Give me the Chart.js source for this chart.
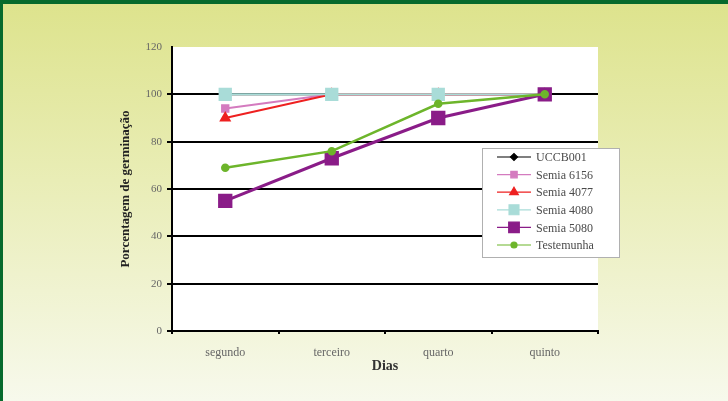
<!DOCTYPE html>
<html>
<head>
<meta charset="utf-8">
<script src="https://cdn.jsdelivr.net/npm/chart.js@4/dist/chart.umd.min.js"></script>
<style>
  html, body { margin: 0; padding: 0; overflow: hidden; background: #ffffff; }
  canvas { display: block; }
</style>
</head>
<body>
<canvas id="germ" width="728" height="401"></canvas>
<script>
// Germination percentage per day, one array per seed lot.
var dias = ['segundo', 'terceiro', 'quarto', 'quinto'];
var uccb001 = [100, 100, 100, 100];
var semia6156 = [94, 100, 100, 100];
var semia4077 = [90, 100, 100, 100];
var semia4080 = [100, 100, 100, 100];
var semia5080 = [55, 73, 90, 100];
var testemunha = [69, 76, 96, 100];
var yMin = 0, yMax = 120, yStep = 20;

var serif = '"Liberation Serif", "Times New Roman", serif';

/**
 * Paints the page background, green frame and white plot area.
 */
var backdrop = {
    id: 'backdrop',
    beforeDraw: function(chart) {
        var ctx = chart.ctx;
        var w = chart.width, h = chart.height;
        var g = ctx.createLinearGradient(0, 0, 0, h);
        g.addColorStop(0, '#dde38c');
        g.addColorStop(0.45, '#e9edb6');
        g.addColorStop(1, '#f7f9ec');
        ctx.save();
        ctx.fillStyle = g;
        ctx.fillRect(0, 0, w, h);
        // dark green frame (top and left)
        ctx.fillStyle = '#066a2c';
        ctx.fillRect(0, 0, w, 4);
        ctx.fillRect(0, 0, 3, h);
        var a = chart.chartArea;
        ctx.fillStyle = '#ffffff';
        ctx.fillRect(a.left, a.top, a.right - a.left, a.bottom - a.top);
        ctx.restore();
    }
};

/**
 * Boxed legend in the style of the original spreadsheet chart.
 */
var boxLegend = {
    id: 'boxLegend',
    afterDatasetsDraw: function(chart) {
        var ctx = chart.ctx;
        var x0 = 482, y0 = 148, bw = 137, bh = 109;
        var rowH = 17.6;
        ctx.save();
        ctx.fillStyle = '#ffffff';
        ctx.fillRect(x0, y0, bw, bh);
        ctx.strokeStyle = '#b0b0b0';
        ctx.lineWidth = 1;
        ctx.strokeRect(x0 + 0.5, y0 + 0.5, bw, bh);
        ctx.font = '12px ' + serif;
        ctx.textBaseline = 'middle';
        chart.data.datasets.forEach(function(ds, i) {
            var y = y0 + 9 + i * rowH;
            ctx.strokeStyle = ds.borderColor;
            ctx.lineWidth = 1.2;
            ctx.beginPath();
            ctx.moveTo(x0 + 15, y);
            ctx.lineTo(x0 + 49, y);
            ctx.stroke();
            ctx.fillStyle = ds.pointBackgroundColor;
            ctx.strokeStyle = ds.pointBorderColor;
            Chart.helpers.drawPoint(ctx, {
                pointStyle: ds.pointStyle,
                radius: ds.legendRadius,
                rotation: 0,
                borderWidth: 1
            }, x0 + 32, y);
            ctx.fillStyle = '#4a4a4a';
            ctx.fillText(ds.label, x0 + 54, y + 1);
        });
        ctx.restore();
    }
};

function series(label, data, color, style, radius, legendRadius, width, order) {
    return {
        label: label,
        data: data,
        borderColor: color,
        backgroundColor: color,
        pointBackgroundColor: color,
        pointBorderColor: color,
        pointStyle: style,
        pointRadius: radius,
        pointHoverRadius: radius,
        legendRadius: legendRadius,
        borderWidth: width,
        tension: 0,
        order: order
    };
}

var ctx = document.getElementById('germ');
new Chart(ctx, {
    type: 'line',
    data: {
        labels: dias,
        datasets: [
            series('UCCB001', uccb001, '#000000', 'rectRot', 4, 3.5, 2, 6),
            series('Semia 6156', semia6156, '#d47bbf', 'rect', 4.5, 4.5, 2, 5),
            series('Semia 4077', semia4077, '#ee2020', 'triangle', 5, 5, 2, 4),
            series('Semia 4080', semia4080, '#a9dcd8', 'rect', 8, 7, 2, 3),
            series('Semia 5080', semia5080, '#8a1c88', 'rect', 8, 7.5, 3, 2),
            series('Testemunha', testemunha, '#6db52b', 'circle', 3, 3, 2.5, 1)
        ]
    },
    options: {
        responsive: false,
        devicePixelRatio: 1,
        animation: false,
        layout: {padding: {left: 114, top: 47, right: 130, bottom: 26}},
        plugins: {
            legend: {display: false},
            tooltip: {enabled: false}
        },
        scales: {
            x: {
                offset: true,
                grid: {
                    offset: true,
                    drawOnChartArea: false,
                    color: '#000000',
                    lineWidth: 2,
                    tickLength: 3
                },
                border: {color: '#000000', width: 2},
                ticks: {
                    color: '#666666',
                    padding: 12,
                    font: {family: serif, size: 12}
                },
                title: {
                    display: true,
                    text: 'Dias',
                    color: '#333333',
                    padding: {top: 0, bottom: 0},
                    font: {family: serif, size: 14, weight: 'bold'}
                },
                afterFit: function(scale) { scale.height = 44; }
            },
            y: {
                min: yMin,
                max: yMax,
                grid: {
                    color: function(c) {
                        return c.tick && c.tick.value === yMax ? 'rgba(0,0,0,0)' : '#000000';
                    },
                    lineWidth: 2,
                    tickLength: 5
                },
                border: {color: '#000000', width: 2},
                ticks: {
                    stepSize: yStep,
                    color: '#666666',
                    padding: 5,
                    font: {family: serif, size: 11}
                },
                title: {
                    display: true,
                    text: 'Porcentagem de germinação',
                    color: '#222222',
                    padding: {top: 4, bottom: 0},
                    font: {family: serif, size: 13, weight: 'bold'}
                },
                afterFit: function(scale) { scale.width = 58; }
            }
        }
    },
    plugins: [backdrop, boxLegend]
});
</script>
</body>
</html>
